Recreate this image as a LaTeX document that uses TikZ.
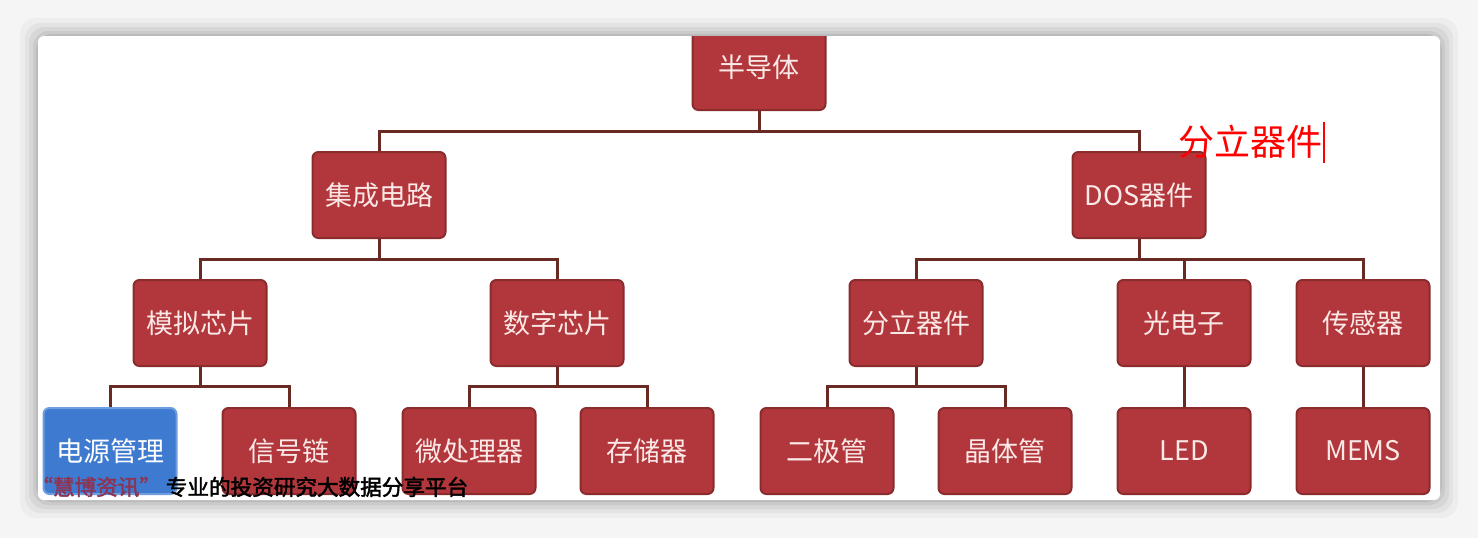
\documentclass[tikz,border=0pt]{standalone}
\usepackage{fontspec}
\setmainfont{Noto Sans CJK SC}
\newfontfamily\wmfont[FakeBold=2]{Noto Sans CJK SC}
\usetikzlibrary{positioning}

\definecolor{boxred}{HTML}{B2373C}
\definecolor{boxedge}{HTML}{8A2B2E}
\definecolor{boxblue}{HTML}{3E7BD0}
\definecolor{blueedge}{HTML}{6E9EE0}
\definecolor{linkbrown}{HTML}{6A2A24}
\definecolor{wmred}{HTML}{8E3352}
\definecolor{boxtext}{HTML}{FBE9E7}

\tikzset{
  box/.style={draw=boxedge, fill=boxred, line width=1pt, rounded corners=3pt,
    minimum width=66.5pt, minimum height=43pt, inner sep=0pt,
    text=boxtext, font=\fontsize{13.5}{15}\selectfont},
  bluebox/.style={box, draw=blueedge, fill=boxblue, text=white},
  link/.style={draw=linkbrown, line width=1.5pt}
}

\begin{document}
\begin{tikzpicture}[x=0.5pt, y=-0.5pt]
  % page and card shadow
  \fill[black!4] (0,0) rectangle (1478,538);
  \foreach \s/\o in {18/0.03, 13/0.04, 9/0.05, 5/0.06, 2/0.08}
    \fill[black, opacity=\o, rounded corners=8pt]
      (38-\s,36-\s) rectangle (1440+\s,500+\s);
  \fill[white, rounded corners=3pt] (38,36) rectangle (1440,500);

  \begin{scope}
    \clip[rounded corners=3pt] (38,36) rectangle (1440,500);

    % level 1
    \node[box] (root) at (759,67) {半导体};

    % level 2
    \node[box] (ic)  at (379,195)  {集成电路};
    \node[box] (dos) at (1139,195) {DOS器件};

    % level 3
    \node[box] (analog)   at (200,323)  {模拟芯片};
    \node[box] (digital)  at (557,323)  {数字芯片};
    \node[box] (discrete) at (916,323)  {分立器件};
    \node[box] (opto)     at (1184,323) {光电子};
    \node[box] (sensor)   at (1363,323) {传感器};

    % level 4
    \node[bluebox] (power) at (110,451) {电源管理};
    \node[box] (signal)     at (289,451)  {信号链};
    \node[box] (cpu)        at (469,451)  {微处理器};
    \node[box] (memory)     at (647,451)  {存储器};
    \node[box] (diode)      at (827,451)  {二极管};
    \node[box] (transistor) at (1005,451) {晶体管};
    \node[box] (led)        at (1184,451) {LED};
    \node[box] (mems)       at (1363,451) {MEMS};

    % connectors
    \foreach \c in {ic,dos}
      \draw[link] (root.south) -- ++(0,20) -| (\c.north);
    \foreach \c in {analog,digital}
      \draw[link] (ic.south) -- ++(0,20) -| (\c.north);
    \foreach \c in {discrete,opto,sensor}
      \draw[link] (dos.south) -- ++(0,20) -| (\c.north);
    \foreach \c in {power,signal}
      \draw[link] (analog.south) -- ++(0,19) -| (\c.north);
    \foreach \c in {cpu,memory}
      \draw[link] (digital.south) -- ++(0,19) -| (\c.north);
    \foreach \c in {diode,transistor}
      \draw[link] (discrete.south) -- ++(0,19) -| (\c.north);
    \draw[link] (opto.south) -- (led.north);
    \draw[link] (sensor.south) -- (mems.north);

    % typed label with cursor
    \node[red, font=\fontsize{18}{20}\selectfont, inner sep=0pt] (edit) at (1250,142) {分立器件};
    \draw[red, line width=0.8pt] (1324,122) -- (1324,163);

    % watermark
    \node[anchor=west, inner sep=0pt, font=\wmfont\fontsize{10.8}{12}\selectfont] (wm) at (31,487)
      {{\color{wmred}“慧博资讯”}\ 专业的投资研究大数据分享平台};
  \end{scope}
\end{tikzpicture}
\end{document}
